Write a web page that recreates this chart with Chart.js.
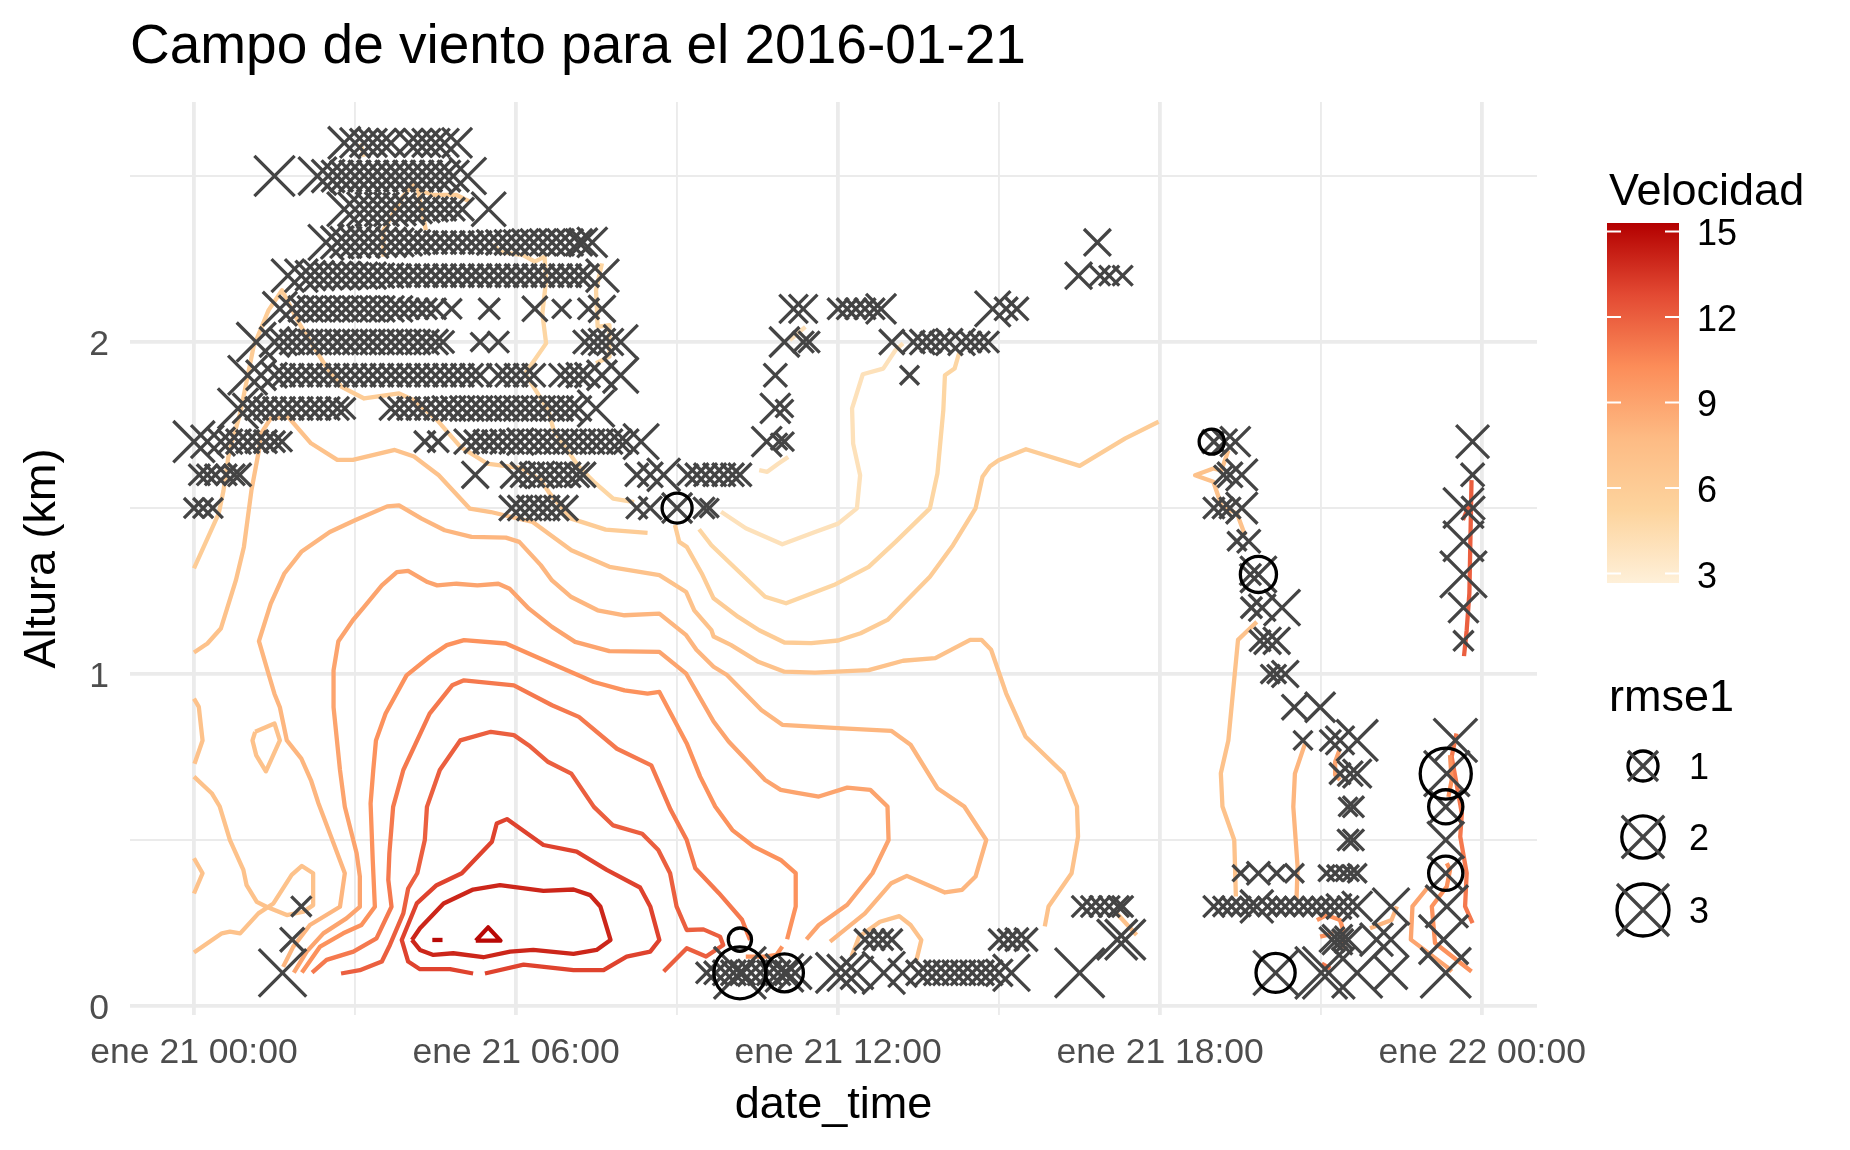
<!DOCTYPE html>
<html>
<head>
<meta charset="utf-8">
<title>Campo de viento</title>
<script src="https://cdn.jsdelivr.net/npm/chart.js@4"></script>
<style>
  html, body { margin: 0; padding: 0; background: #fff; }
  canvas { display: block; }
</style>
</head>
<body>
<canvas id="wind-chart" width="1850" height="1150"></canvas>
<script>
// hours after ene 21 00:00, km
const xTicks = [0, 3, 6, 9, 12, 15, 18, 21, 24]
const xTickLabels = { 0: "ene 21 00:00", 6: "ene 21 06:00", 12: "ene 21 12:00", 18: "ene 21 18:00", 24: "ene 22 00:00" }
const yTicks = [0, 0.5, 1, 1.5, 2, 2.5]

// speed contours, [hour, km]
const contourA = [[0,1.318],[.46,1.483],[.55,1.553],[.64,1.654],[.71,1.7],[.86,1.785],[1.11,1.986],[1.39,2.096],[1.64,2.156],[1.96,2.056],[2.46,1.926],[2.75,1.865],[3.17,1.83],[3.82,1.845],[4.1,1.825],[4.53,1.765],[4.96,1.685],[5.46,1.634],[6.1,1.62],[6.46,1.584],[6.63,1.543],[7.03,1.468],[7.67,1.435],[8.45,1.425]]
const contourB = [[0,1.065],[.25,1.092],[.5,1.137],[.78,1.282],[.93,1.383],[1.07,1.553],[1.21,1.674],[1.25,1.725],[1.43,1.77],[1.75,1.775],[2.18,1.695],[2.67,1.645],[2.96,1.645],[3.74,1.675],[4.1,1.655],[4.56,1.599],[5.14,1.498],[5.53,1.488],[6.31,1.458],[7.03,1.373],[7.74,1.323],[8.67,1.298],[9.17,1.247],[9.32,1.192],[9.64,1.132],[9.68,1.113],[10,1.088],[10.5,1.038],[11,1.007],[11.57,1.004],[12.57,1.012],[13.21,1.04],[13.81,1.048],[14.46,1.103],[14.67,1.103],[14.85,1.073],[15.13,.942],[15.49,.812],[16.2,.701],[16.45,.601],[16.47,.51],[16.35,.4],[15.92,.3],[15.85,.24]]
const contourC1 = [[0,.926],[.09,.901],[.16,.8],[.01,.73]]
const contourC2 = [[1.14,.826],[1.5,.851],[1.6,.8],[1.34,.707],[1.16,.755],[1.09,.8],[1.14,.826]]
const contourC3 = [[0,.691],[.33,.641],[.48,.601],[.67,.5],[.92,.41],[.98,.364],[1.17,.314],[1.35,.299],[1.73,.274],[2.04,.284],[2.22,.304],[2.22,.4],[2.01,.422],[1.82,.395],[1.48,.309],[1.2,.279],[.86,.219],[.67,.224],[.52,.219],[0,.161]]
const contourC4 = [[0,.445],[.16,.4],[0,.339]]
const contourD = [[1.66,.118],[1.85,.179],[2.16,.244],[2.72,.299],[2.81,.4],[2.6,.49],[2.32,.61],[2.18,.68],[2,.745],[1.73,.8],[1.6,.9],[1.5,.94],[1.39,1],[1.21,1.099],[1.43,1.212],[1.68,1.302],[2,1.368],[2.53,1.428],[3,1.463],[3.6,1.505],[3.82,1.508],[4.24,1.468],[4.67,1.433],[5.17,1.413],[5.81,1.411],[6.06,1.398],[6.46,1.328],[6.67,1.282],[7.03,1.232],[7.52,1.192],[8.02,1.177],[8.67,1.182],[9.17,1.117],[9.36,1.073],[9.68,1.022],[9.93,.997],[10.57,.892],[10.96,.847],[12,.837],[12.99,.829],[13.35,.787],[13.85,.656],[14.35,.601],[14.76,.5],[14.56,.39],[14.31,.35],[13.99,.342],[13.28,.392],[12.99,.37],[12.5,.279],[11.85,.194]]
const contourE = [[1.86,.101],[2.1,.164],[2.41,.219],[2.84,.264],[3.09,.299],[3.09,.39],[3.03,.46],[2.81,.6],[2.72,.711],[2.6,.9],[2.6,1.011],[2.69,1.099],[2.96,1.162],[3.17,1.202],[3.5,1.267],[3.78,1.307],[3.99,1.311],[4.35,1.277],[4.53,1.267],[4.89,1.272],[5.28,1.267],[5.67,1.272],[5.88,1.257],[6.24,1.197],[6.67,1.142],[7.1,1.097],[7.74,1.069],[8.67,1.067],[9.17,1.001],[9.68,.857],[9.96,.797],[10.64,.681],[10.93,.651],[11.21,.643],[11.64,.631],[12.17,.658],[12.6,.651],[12.92,.601],[12.94,.5],[12.64,.4],[12.17,.305],[11.64,.244],[11.41,.201]]
const contourF = [[2.01,.101],[2.35,.179],[2.78,.219],[3.12,.244],[3.37,.299],[3.33,.44],[3.29,.61],[3.34,.711],[3.39,.8],[3.57,.881],[3.96,.996],[4.39,1.052],[4.71,1.087],[5.03,1.102],[5.81,1.092],[6.67,1.031],[7.45,.976],[8.02,.951],[8.45,.941],[8.67,.946],[9.18,.791],[9.43,.691],[9.71,.601],[10.03,.53],[10.43,.48],[10.93,.44],[11.21,.4],[11.21,.3],[11.05,.201]]
const contourF2 = [[10.96,.179],[10.85,.154],[10.64,.149],[10.28,.149]]
const contourG = [[2.2,.101],[2.47,.139],[2.97,.164],[3.4,.204],[3.68,.299],[3.62,.38],[3.64,.46],[3.71,.6],[3.9,.711],[4.39,.881],[4.81,.966],[5.03,.981],[5.96,.966],[6.67,.906],[7.17,.871],[7.88,.775],[8.52,.725],[8.88,.591],[9.18,.5],[9.34,.415],[9.78,.34],[10.21,.26],[10.36,.199]]
const contourH = [[2.74,.098],[3.09,.108],[3.5,.134],[3.65,.184],[3.9,.279],[3.99,.354],[4.16,.4],[4.3,.5],[4.34,.6],[4.58,.711],[4.96,.8],[5.53,.826],[5.96,.816],[6.24,.785],[6.6,.735],[7.03,.7],[7.45,.6],[7.81,.544],[8.35,.519],[8.65,.47],[8.87,.4],[8.99,.3],[9.18,.229],[9.49,.231],[9.8,.209],[9.86,.184],[9.54,.149],[9.18,.174],[8.75,.104]]
const contourI = [[5.2,.098],[4.77,.111],[4.21,.111],[3.99,.134],[3.87,.199],[4.15,.309],[4.52,.364],[4.99,.4],[5.55,.495],[5.64,.55],[5.83,.563],[6.51,.485],[7.13,.465],[7.69,.41],[8.31,.357],[8.5,.3],[8.67,.199],[8.5,.164],[8.06,.149],[7.63,.108],[7.07,.108],[6.14,.125],[5.42,.098]]
const contourJ = [[4.06,.199],[4.21,.234],[4.65,.309],[5.2,.351],[5.7,.364],[6.51,.347],[7.07,.351],[7.38,.334],[7.57,.3],[7.76,.199],[7.5,.169],[7.07,.157],[6.32,.169],[5.89,.164],[5.39,.147],[4.83,.159],[4.46,.154],[4.21,.169],[4.06,.199]]
const peakLoop = [[5.25,.197],[5.48,.237],[5.71,.197],[5.25,.197]]
const peakDot = [[4.44,.199],[4.63,.199]]
const light1 = [[9.82,1.489],[10.28,1.439],[10.96,1.391],[11.57,1.428],[12,1.453],[12.35,1.499],[12.41,1.599],[12.28,1.694],[12.26,1.8],[12.46,1.903],[12.84,1.92],[13.07,1.976],[13.21,1.996]]
const light2 = [[10.53,1.614],[10.68,1.609],[10.89,1.634],[11.07,1.654]]
const light3 = [[11.1,2.006],[11.39,2.046]]
const contourL = [[9.41,1.436],[9.64,1.388],[10.64,1.233],[11.03,1.213],[11.92,1.268],[12.57,1.323],[13.07,1.398],[13.71,1.499],[13.85,1.604],[13.96,1.795],[13.99,1.9],[14.17,1.92],[14.26,1.97]]
const contourM = [[8.96,1.449],[9.04,1.398],[9.18,1.383],[9.46,1.303],[9.68,1.228],[10.14,1.172],[10.53,1.132],[11,1.095],[11.5,1.093],[12,1.101],[12.42,1.123],[12.92,1.163],[13.71,1.293],[14.14,1.388],[14.56,1.499],[14.69,1.594],[14.83,1.626],[14.99,1.644],[15.5,1.677],[16.5,1.627],[17.35,1.71],[17.97,1.76]]
const contourN = [[5.6,2.297],[5.67,2.272],[6.13,2.262],[6.35,2.242],[6.53,2.257],[6.56,2.187],[6.49,2.086],[6.56,1.996],[6.17,1.905],[6.6,1.795],[6.7,1.735],[7.17,1.624],[7.45,1.579],[7.81,1.528],[8.2,1.518]]
const top1 = [[3.53,2.257],[3.53,2.337],[3.89,2.438],[4.1,2.478]]
const top2 = [[4.32,2.337],[4.17,2.458],[4.46,2.443],[4.89,2.443],[5.14,2.423]]
const top3 = [[3.1,2.598],[3.17,2.558]]
const top4 = [[7.6,2.237],[7.49,2.156],[7.52,2.046],[7.74,2.051],[7.74,1.956],[7.49,1.936]]
const low1 = [[12.25,.149],[12.39,.209],[12.78,.254],[13.14,.271],[13.35,.244],[13.55,.199],[13.46,.139]]
const low2 = [[17.13,.29],[17.56,.214]]
const right1 = [[19.41,.33],[19.38,.5],[19.16,.601],[19.13,.701],[19.27,.8],[19.45,1.103],[19.67,1.137],[19.8,1.157]]
const right2 = [[19.58,1.418],[19.43,1.484],[19.15,1.504],[18.99,1.579],[18.65,1.599],[18.99,1.619],[19.14,1.613],[19.27,1.674]]
const right3 = [[20.7,.791],[20.51,.7],[20.48,.6],[20.56,.42],[20.54,.32]]
const right4 = [[21.34,.771],[21.26,.736],[21.26,.696],[21.35,.681]]
const right5 = [[20.92,.259],[21.1,.274],[21.35,.259],[21.41,.229],[21.41,.179]]
const right6 = [[21.01,.128],[21.17,.113]]
const right7 = [[20.98,.209],[21.23,.219]]
const right8 = [[21.91,.234],[22.31,.259],[22.41,.3]]
const right9 = [[23,.36],[22.7,.3],[22.67,.2],[23.34,.118],[23.43,.104]]
const right10 = [[23.34,.43],[23.4,.41],[23.34,.36],[23.06,.3],[23.12,.19],[23.8,.104]]
const right11 = [[23.52,.821],[23.43,.751],[23.62,.58],[23.59,.51],[23.71,.4],[23.68,.3],[23.82,.25]]
const right12 = [[23.4,.756],[23.43,.68],[23.37,.63]]
const right13 = [[23.8,1.584],[23.79,1.494],[23.76,1.243],[23.71,1.132],[23.66,1.054]]
const right14 = [[23.77,1.514],[23.64,1.464]]

// speed of each contour
const contours = [
  [4, light1], [4, light2], [4, light3], [5, contourL], [5, contourN], [5, top3], [5, top4],
  [6, contourA], [6, contourM], [6, top1], [6, top2], [7, contourB], [7, contourC1], [7, contourC2], [7, contourC3], [7, contourC4],
  [7, low1], [7, low2], [7, right1], [7, right2], [8, contourD], [8, right3], [8, right8], [9, contourE], [9, right4], [9, right9],
  [10, contourF], [10, contourF2], [10, right5], [10, right7], [10, right10], [10, right12], [11, contourG], [11, right6], [11, right11],
  [12, contourH], [12, right13], [12, right14], [13, contourI], [14, contourJ], [15, peakLoop], [15, peakDot]
]

// sounding points by height, [hour, rmse1]
const row01 = [[1.65,2.5],[9.55,.5],[9.72,.6],[9.9,.7],[10.05,.7],[10.17,3],[10.22,.7],[10.38,.8],[10.55,.7],[10.72,.7],[10.88,.7],[11,1.6],[11.05,.7],[11.2,1.2],[11.96,1.8],[12.14,1.5],[12.35,1.2],[12.85,2],[13.2,.9],[13.5,.7],[13.67,.7],[13.83,.7],[14,.7],[14.17,.7],[14.33,.7],[14.5,.7],[14.67,.7],[14.83,.7],[15,.8],[15.23,1.5],[16.5,2.7],[20.15,2.2],[21,3],[21.14,3],[21.67,2.8],[22.3,1.2],[23.32,2.8]]
const row02 = [[1.83,.65],[12.5,.5],[12.67,.5],[12.83,.5],[13,.5],[15,.5],[15.17,.5],[15.33,.6],[15.5,.6],[17.2,1.8],[17.35,1.8],[21.2,.7],[21.3,1],[21.4,.5],[21.5,.8],[22.03,1.2],[22.3,1.4],[23.28,2.7]]
const row03 = [[2,.45],[16.55,.5],[16.72,.5],[16.88,.5],[17.05,.5],[17.22,.5],[17.3,.5],[19,.5],[19.17,.45],[19.33,.45],[19.5,.45],[19.67,.45],[19.8,1.2],[20,.45],[20.17,.45],[20.33,.45],[20.5,.45],[20.67,.45],[20.83,.45],[21,.45],[21.17,.45],[21.33,.7],[21.5,.5],[21.67,1],[22.3,1.5],[23.34,2]]
const row04 = [[19.5,.3],[19.83,.6],[20.17,.3],[20.5,.4],[21.1,.3],[21.26,.3],[21.42,.3],[21.55,.3],[21.67,.4],[23.32,1.3]]
const row05 = [[21.5,.5],[21.6,.5],[23.32,1.5]]
const row06 = [[21.5,.4],[21.6,.5],[23.32,1.3]]
const row07 = [[21.35,.5],[21.54,.7],[21.67,.9],[23.34,2.3]]
const row08 = [[20.66,.4],[21.17,.5],[21.35,.9],[21.67,1.9],[23.5,2.1]]
const row09 = [[20.5,.7],[20.98,1]]
const row10 = [[20.05,.4],[20.17,.4],[20.33,.8]]
const row11 = [[19.86,.5],[20,.8],[20.17,.8],[23.65,.45]]
const row12 = [[19.7,.5],[19.9,.8],[20.27,1.45],[23.65,1]]
const row13 = [[19.68,.5],[19.83,1.45],[23.65,2.4]]
const row14 = [[19.43,.4],[19.65,.6],[23.65,1.8]]
const row15 = [[0,.45],[.17,.45],[.35,.45],[5.92,.7],[6.08,.7],[6.25,.7],[6.42,.7],[6.58,.7],[6.75,.7],[6.92,.7],[8.25,.5],[8.5,.6],[9,1],[9.5,.5],[9.6,.4],[19,.5],[19.17,.5],[19.3,.5],[19.52,1.1],[23.65,1.8],[23.83,.6]]
const row16 = [[.1,.5],[.25,.5],[.4,.5],[.6,.5],[.75,.5],[.85,.6],[5.24,.8],[5.96,.8],[6.13,.7],[6.3,.7],[6.47,.8],[6.63,.7],[6.8,.7],[6.97,.7],[7.13,.7],[7.25,.7],[8.25,.6],[8.5,.7],[8.75,1.2],[9.2,.5],[9.37,.6],[9.53,.6],[9.7,.6],[9.87,.6],[10.03,.6],[10.17,.6],[19.18,.4],[19.3,.7],[19.52,1.1],[23.82,.6]]
const row17 = [[0,1.9],[.25,1.2],[.5,.9],[.67,.7],[.83,.7],[1,.6],[1.17,.6],[1.33,.6],[1.5,.5],[1.64,.45],[4.3,.5],[4.55,.5],[5.08,.7],[5.25,.6],[5.42,.6],[5.58,.6],[5.75,.7],[5.92,.7],[6.08,.8],[6.25,.7],[6.42,.7],[6.58,.7],[6.75,.7],[6.92,.7],[7.08,.7],[7.25,.7],[7.42,.7],[7.58,.7],[7.75,.7],[7.92,.7],[8.05,.7],[8.33,1.4],[10.67,1],[11,.4],[10.9,.3],[19,.6],[19.2,.7],[19.4,1],[23.82,1.2]]
const row18 = [[.82,1.8],[1,1],[1.17,.6],[1.33,.6],[1.5,.6],[1.67,.6],[1.83,.6],[2,.6],[2.17,.6],[2.33,.6],[2.5,.6],[2.67,.6],[2.81,.5],[3.67,.6],[3.83,.6],[4,.6],[4.17,.6],[4.33,.6],[4.5,.6],[4.67,.7],[4.83,.7],[5,.7],[5.17,.7],[5.33,.7],[5.5,.7],[5.67,.7],[5.83,.7],[6,.7],[6.17,.7],[6.33,.7],[6.5,.7],[6.67,.7],[6.83,.7],[7,.7],[7.17,.7],[7.49,1.5],[10.83,1],[11,.35]]
const row19 = [[1,1.7],[1.25,1],[1.5,.7],[1.67,.6],[1.83,.6],[2,.6],[2.17,.6],[2.33,.6],[2.5,.6],[2.67,.6],[2.83,.6],[3,.6],[3.17,.6],[3.33,.6],[3.5,.6],[3.67,.6],[3.83,.6],[4,.6],[4.17,.6],[4.33,.6],[4.5,.6],[4.67,.6],[4.83,.6],[5,.6],[5.17,.6],[5.33,.6],[5.67,.6],[5.83,.6],[6,.6],[6.17,.6],[6.33,.6],[6.83,.6],[7,.6],[7.17,.7],[7.33,.7],[7.6,1],[7.95,1.4],[10.83,.6],[13.33,.4]]
const row20 = [[1.16,1.7],[1.5,1],[1.67,.8],[1.83,.7],[2,.7],[2.17,.7],[2.33,.7],[2.5,.7],[2.67,.7],[2.83,.7],[3,.7],[3.17,.7],[3.33,.7],[3.5,.7],[3.67,.7],[3.83,.7],[4,.7],[4.17,.7],[4.33,.7],[4.5,.7],[4.64,.55],[5.33,.4],[5.67,.5],[7.28,.6],[7.45,.7],[7.6,.8],[7.75,.8],[7.95,1.3],[11,1],[11.35,.5],[11.46,.5],[13,.7],[13.4,.6],[13.57,.7],[13.73,.5],[13.9,.5],[14.07,.8],[14.3,.8],[14.47,.5],[14.63,.5],[14.8,.5]]
const row21 = [[1.6,1.3],[1.83,.8],[2,.75],[2.17,.75],[2.33,.75],[2.5,.75],[2.67,.75],[2.83,.75],[3,.75],[3.17,.75],[3.33,.75],[3.5,.75],[3.67,.75],[3.83,.75],[4,.5],[4.17,.5],[4.33,.5],[4.5,.5],[4.8,.45],[5.5,.5],[6.35,.7],[6.85,.4],[7.35,.5],[7.6,.8],[11.17,.9],[11.35,.9],[12,.5],[12.17,.5],[12.33,.5],[12.5,.5],[12.67,.5],[12.8,1],[14.88,1.4],[15.13,.6],[15.33,.6]]
const row22 = [[1.75,1.2],[2,1.2],[2.17,1],[2.33,1],[2.5,.9],[2.67,.9],[2.83,.9],[3,.8],[3.17,.8],[3.33,.8],[3.5,.7],[3.67,.7],[3.83,.6],[4,.6],[4.17,.6],[4.33,.6],[4.5,.6],[4.67,.6],[4.83,.6],[5,.6],[5.17,.6],[5.33,.6],[5.5,.6],[5.67,.6],[5.83,.6],[6,.6],[6.17,.6],[6.33,.6],[6.5,.6],[6.67,.6],[6.83,.6],[7,.6],[7.17,.6],[7.33,.6],[7.61,1.2],[16.48,.8],[16.88,.45],[17.05,.45],[17.3,.45]]
const row23 = [[2.46,1.4],[2.67,1.2],[2.83,1.1],[3,1.1],[3.17,1.1],[3.33,1.1],[3.5,1],[3.67,1],[3.83,.9],[4,.8],[4.17,.7],[4.33,.6],[4.5,.6],[4.67,.6],[4.83,.6],[5,.6],[5.17,.6],[5.33,.6],[5.5,.7],[5.67,.7],[5.83,.7],[6,.7],[6.17,.8],[6.33,.8],[6.5,.8],[6.67,.8],[6.83,.8],[7,.8],[7.17,.8],[7.25,.9],[7.42,1],[16.83,.8]]
const row24 = [[2.8,1.3],[3,1.3],[3.17,1.3],[3.33,1.3],[3.5,1.3],[3.67,1.3],[3.83,1.2],[4,1.1],[4.17,.9],[4.33,.8],[4.5,.7],[4.67,.6],[4.83,.6],[5,.6],[5.49,1.3]]
const row25 = [[1.5,1.8],[2.3,1.6],[2.5,1.2],[2.67,1.1],[2.83,1.1],[3,1.1],[3.17,1.1],[3.33,1.1],[3.5,1.1],[3.67,1.1],[3.83,1.1],[4,1.1],[4.17,1.1],[4.33,1.1],[4.5,1.1],[4.67,1.1],[4.83,1.1],[5.1,1.5]]
const row26 = [[2.8,1.15],[3,1],[3.17,.9],[3.33,.9],[3.5,.9],[3.67,.9],[4,.9],[4.17,.9],[4.33,.9],[4.5,.9],[4.67,.9],[4.9,1]]
const rowHeights = [.1,.2,.3,.4,.5,.6,.7,.8,.9,1,1.1,1.2,1.3,1.4,1.5,1.6,1.7,1.8,1.9,2,2.1,2.2,2.3,2.4,2.5,2.6]
const rows = [row01,row02,row03,row04,row05,row06,row07,row08,row09,row10,row11,row12,row13,row14,row15,row16,row17,row18,row19,row20,row21,row22,row23,row24,row25,row26]

// points ringed in black
const ringHours = [18.96, 19.83, 9, 10.17, 10.17, 11, 20.15, 23.32, 23.32, 23.32]
const ringKm = [1.7, 1.3, 1.5, .2, .1, .1, .1, .7, .6, .4]
const ringRmse = [.7, 1.45, 1, .6, 3, 1.6, 1.7, 2.9, 1.3, 1.3]

const speedTicks = [15, 12, 9, 6, 3]
const rmseTicks = [1, 2, 3]

const FONT = "'Liberation Sans', Arial, sans-serif"
const speedMin = 2.67
const speedMax = 15.3
const ramp = [[254,240,217],[253,212,158],[253,187,132],[252,141,89],[227,74,51],[179,0,0]]

const speedColour = (v) => {
  const t = (v - speedMin) / (speedMax - speedMin) * (ramp.length - 1)
  const i = Math.min(Math.floor(t), ramp.length - 2)
  const f = t - i
  const c = ramp[i].map((a, k) => Math.round(a + (ramp[i + 1][k] - a) * f))
  return `rgb(${c[0]},${c[1]},${c[2]})`
}

// marker half width in px for an rmse value
const halfWidth = (rmse) => 15 * Math.sqrt(rmse)

const datasets = []

contours.forEach(([speed, line]) => {
  datasets.push({
    type: "scatter",
    data: line.map(([x, y]) => ({ x, y })),
    showLine: true,
    borderColor: speedColour(speed),
    borderWidth: 4.3,
    borderJoinStyle: "round",
    borderCapStyle: "butt",
    pointRadius: 0,
    tension: 0,
    order: 3,
  })
})

const pointData = []
const pointSizes = []
rows.forEach((row, i) => {
  row.forEach(([hour, rmse]) => {
    pointData.push({ x: hour, y: rowHeights[i] })
    pointSizes.push(halfWidth(rmse) / Math.SQRT1_2)
  })
})

datasets.push({
  type: "scatter",
  data: pointData,
  pointStyle: "crossRot",
  pointRadius: pointSizes,
  pointBorderColor: "#444444",
  pointBorderWidth: 3.3,
  showLine: false,
  order: 2,
})

datasets.push({
  type: "scatter",
  data: ringHours.map((h, i) => ({ x: h, y: ringKm[i] })),
  pointStyle: "circle",
  pointRadius: ringRmse.map(halfWidth),
  pointBackgroundColor: "transparent",
  pointBorderColor: "#000000",
  pointBorderWidth: 3.3,
  showLine: false,
  order: 1,
})

const legendPlugin = {
  id: "sideLegend",
  afterDraw: (chart) => {
    const ctx = chart.ctx
    ctx.save()

    ctx.fillStyle = "#000"
    ctx.textAlign = "left"
    ctx.textBaseline = "alphabetic"
    ctx.font = `45px ${FONT}`
    ctx.fillText("Velocidad", 1609, 205)
    ctx.fillText("rmse1", 1609, 711)

    const barTop = 223
    const barBottom = 583
    const grad = ctx.createLinearGradient(0, barBottom, 0, barTop)
    ramp.forEach((c, i) => grad.addColorStop(i / (ramp.length - 1), `rgb(${c[0]},${c[1]},${c[2]})`))
    ctx.fillStyle = grad
    ctx.fillRect(1607, barTop, 72, barBottom - barTop)

    ctx.font = `36px ${FONT}`
    ctx.textBaseline = "middle"
    speedTicks.forEach((v) => {
      const y = barBottom - (v - speedMin) / (speedMax - speedMin) * (barBottom - barTop)
      ctx.strokeStyle = "#fff"
      ctx.lineWidth = 2
      ctx.beginPath()
      ctx.moveTo(1607, y)
      ctx.lineTo(1621, y)
      ctx.moveTo(1665, y)
      ctx.lineTo(1679, y)
      ctx.stroke()
      ctx.fillStyle = "#000"
      ctx.fillText(String(v), 1697, y + 4)
    })

    const keyY = [766, 837, 910]
    rmseTicks.forEach((v, i) => {
      const r = halfWidth(v)
      const y = keyY[i]
      ctx.strokeStyle = "#000"
      ctx.lineWidth = 3.3
      ctx.beginPath()
      ctx.arc(1643, y, r, 0, Math.PI * 2)
      ctx.stroke()
      ctx.strokeStyle = "#444444"
      ctx.lineWidth = 3.3
      ctx.beginPath()
      ctx.moveTo(1643 - r, y - r)
      ctx.lineTo(1643 + r, y + r)
      ctx.moveTo(1643 + r, y - r)
      ctx.lineTo(1643 - r, y + r)
      ctx.stroke()
      ctx.fillStyle = "#000"
      ctx.fillText(String(v), 1689, y + 3)
    })
    ctx.restore()
  },
}

new Chart(document.getElementById("wind-chart"), {
  type: "scatter",
  data: { datasets },
  plugins: [legendPlugin],
  options: {
    responsive: false,
    devicePixelRatio: 1,
    animation: false,
    events: [],
    layout: { padding: { right: 313 } },
    plugins: {
      legend: { display: false },
      tooltip: { enabled: false },
      title: {
        display: true,
        text: "Campo de viento para el 2016-01-21",
        align: "start",
        fullSize: false,
        color: "#000",
        font: { family: FONT, size: 55, weight: "normal", lineHeight: 1.2 },
        padding: { top: 15, bottom: 21 },
      },
    },
    scales: {
      x: {
        type: "linear",
        min: -1.192,
        max: 25.02,
        afterBuildTicks: (axis) => { axis.ticks = xTicks.map((value) => ({ value })) },
        afterFit: (axis) => { axis.height = 135 },
        border: { display: false },
        grid: {
          color: "#ebebeb",
          drawTicks: false,
          lineWidth: (c) => (c.tick && c.tick.value % 6 === 0 ? 3.8 : 1.9),
        },
        ticks: {
          autoSkip: false,
          maxRotation: 0,
          minRotation: 0,
          padding: 17,
          color: "#4d4d4d",
          font: { family: FONT, size: 35.5 },
          callback: (v) => xTickLabels[v] || "",
        },
        title: {
          display: true,
          text: "date_time",
          color: "#000",
          font: { family: FONT, size: 45, weight: "normal" },
          padding: { top: 0, bottom: 17 },
        },
      },
      y: {
        type: "linear",
        min: -0.027,
        max: 2.723,
        afterBuildTicks: (axis) => { axis.ticks = yTicks.map((value) => ({ value })) },
        afterFit: (axis) => { axis.width = 130 },
        border: { display: false },
        grid: {
          color: "#ebebeb",
          drawTicks: false,
          lineWidth: (c) => (c.tick && Number.isInteger(c.tick.value) ? 3.8 : 1.9),
        },
        ticks: {
          autoSkip: false,
          padding: 21,
          labelOffset: 3,
          color: "#4d4d4d",
          font: { family: FONT, size: 35.5 },
          callback: (v) => (Number.isInteger(v) ? String(v) : ""),
        },
        title: {
          display: true,
          text: "Altura (km)",
          color: "#000",
          font: { family: FONT, size: 45, weight: "normal" },
          padding: { top: 16, bottom: 0 },
        },
      },
    },
  },
})
</script>
</body>
</html>
